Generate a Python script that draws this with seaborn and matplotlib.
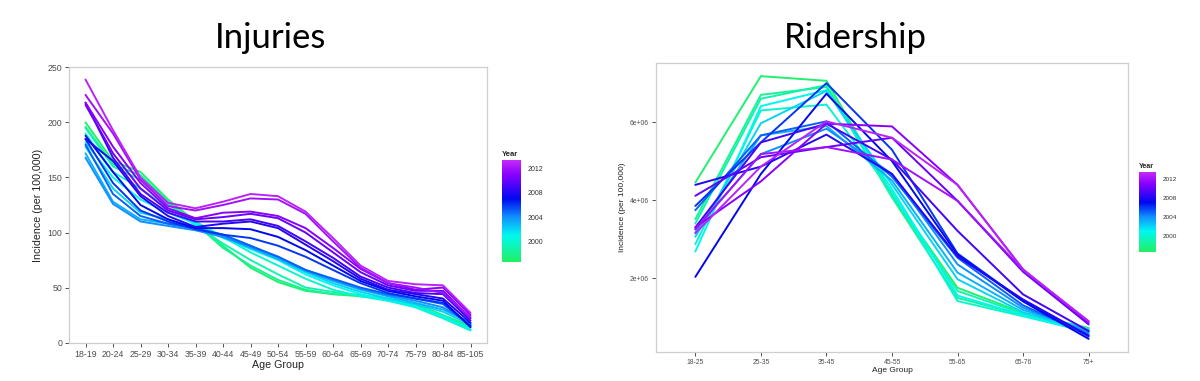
# Injuries vs ridership by age group, one line per year
import pandas as pd
import matplotlib
matplotlib.use("Agg")
import matplotlib.pyplot as plt
import seaborn as sns
from matplotlib.colors import LinearSegmentedColormap, Normalize
from matplotlib.cm import ScalarMappable
from matplotlib.ticker import FuncFormatter

years = list(range(1997, 2014))

injury_ages = ["18-19", "20-24", "25-29", "30-34", "35-39", "40-44", "45-49", "50-54",
               "55-59", "60-64", "65-69", "70-74", "75-79", "80-84", "85-105"]
# one row per year, 1997 -> 2013
injury_rates = [
    [200, 165, 155, 130, 110, 88, 68, 55, 47, 44, 42, 40, 35, 25, 15],
    [196, 162, 152, 128, 108, 86, 70, 57, 48, 44, 43, 40, 34, 24, 14],
    [195, 160, 148, 126, 106, 90, 75, 62, 50, 46, 43, 39, 33, 23, 12],
    [190, 155, 140, 122, 110, 96, 82, 70, 58, 48, 42, 38, 32, 22, 11],
    [182, 150, 130, 118, 108, 95, 85, 75, 62, 52, 44, 38, 33, 24, 12],
    [178, 140, 118, 112, 104, 98, 88, 76, 64, 54, 46, 40, 35, 28, 16],
    [172, 128, 112, 108, 103, 96, 86, 76, 65, 56, 48, 42, 36, 30, 18],
    [168, 126, 110, 106, 102, 96, 87, 78, 66, 57, 49, 43, 38, 32, 17],
    [180, 135, 115, 108, 104, 98, 88, 78, 66, 58, 50, 44, 40, 35, 16],
    [185, 145, 120, 110, 103, 98, 95, 88, 78, 66, 54, 45, 40, 36, 15],
    [188, 155, 125, 112, 104, 104, 103, 96, 84, 70, 56, 47, 42, 38, 14],
    [185, 165, 133, 115, 105, 108, 110, 104, 89, 74, 58, 48, 44, 40, 18],
    [218, 168, 135, 118, 110, 110, 112, 106, 92, 77, 60, 50, 45, 44, 20],
    [216, 172, 140, 120, 112, 114, 117, 113, 100, 82, 64, 52, 47, 47, 22],
    [218, 178, 145, 122, 113, 118, 119, 115, 104, 86, 67, 54, 48, 50, 25],
    [225, 190, 148, 124, 120, 125, 131, 130, 117, 92, 68, 54, 50, 45, 23],
    [239, 193, 150, 127, 122, 128, 135, 133, 119, 95, 70, 56, 53, 52, 27],
]

rider_ages = ["18-25", "25-35", "35-45", "45-55", "55-65", "65-76", "75+"]
# millions of riders, one row per year, 1997 -> 2013
rider_counts = [
    [4.45, 7.18, 7.06, 4.15, 1.75, 1.11, 0.72],
    [3.51, 6.70, 6.90, 4.07, 1.49, 1.05, 0.68],
    [3.40, 6.60, 6.95, 4.10, 1.67, 1.08, 0.70],
    [2.87, 6.30, 6.45, 4.20, 1.41, 1.02, 0.62],
    [2.68, 6.41, 6.82, 4.28, 1.55, 1.05, 0.60],
    [3.06, 5.97, 6.80, 4.40, 1.97, 1.12, 0.64],
    [3.17, 5.66, 5.90, 4.50, 2.14, 1.18, 0.66],
    [3.25, 5.18, 5.83, 4.67, 2.35, 1.24, 0.60],
    [3.74, 5.66, 6.02, 4.60, 2.52, 1.30, 0.55],
    [3.85, 5.48, 7.00, 5.29, 2.63, 1.42, 0.50],
    [2.03, 4.67, 6.73, 5.00, 2.60, 1.40, 0.44],
    [4.39, 4.86, 5.68, 4.67, 2.55, 1.45, 0.52],
    [3.30, 5.48, 5.96, 5.04, 3.21, 1.58, 0.64],
    [4.11, 5.10, 5.36, 5.60, 3.98, 2.16, 0.81],
    [3.30, 4.48, 5.96, 5.89, 4.39, 2.22, 0.85],
    [3.25, 5.18, 5.36, 5.04, 3.98, 2.20, 0.89],
    [3.15, 4.86, 6.02, 5.60, 4.39, 2.22, 0.89],
]

cbar_ticks = [2000, 2004, 2008, 2012]


def to_long(ages, table, scale=1.0):
    rows = []
    for yr, vals in zip(years, table):
        for age, v in zip(ages, vals):
            rows.append({"Age Group": age, "Year": yr, "value": v * scale})
    return pd.DataFrame(rows)


inj_df = to_long(injury_ages, injury_rates)
rid_df = to_long(rider_ages, rider_counts, 1e6)

sns.set_style("white")
plt.rcParams["font.family"] = ["Liberation Sans", "DejaVu Sans"]

cmap = LinearSegmentedColormap.from_list("yr", [
    (0.00, "#22F062"), (0.26, "#00F8F0"), (0.44, "#1090FF"),
    (0.62, "#0008F0"), (0.86, "#8A00FF"), (1.00, "#C42AF8")])
norm = Normalize(vmin=1996.6, vmax=2013.4)

W, H = 1200, 381
fig = plt.figure(figsize=(W / 100, H / 100), dpi=100)


def box(x0, y0, x1, y1):
    return [x0 / W, 1 - y1 / H, (x1 - x0) / W, (y1 - y0) / H]


def draw(ax, cax, df, n, tick_fs, lab_fs, cb_fs):
    sns.lineplot(data=df, x="Age Group", y="value", hue="Year", palette=cmap,
                 hue_norm=norm, estimator=None, sort=False, lw=1.4,
                 legend=False, ax=ax)
    ax.set_xlim(-0.6, n - 1 + 0.6)
    for s in ax.spines.values():
        s.set_visible(True)
        s.set_color("#cfcfcf")
        s.set_linewidth(0.9)
    ax.tick_params(direction="out", length=3, width=0.6, color="#333333",
                   labelsize=tick_fs, labelcolor="#4d4d4d", pad=2,
                   bottom=True, left=True)
    ax.set_xlabel("Age Group", fontsize=lab_fs, labelpad=1, color="#222222")
    ax.set_ylabel("Incidence (per 100,000)", fontsize=lab_fs, labelpad=3, color="#222222")

    cb = fig.colorbar(ScalarMappable(norm=norm, cmap=cmap), cax=cax, ticks=cbar_ticks)
    cb.outline.set_visible(False)
    cb.ax.tick_params(length=3, width=0.5, color="white", labelsize=cb_fs,
                      labelcolor="#333333", pad=2)
    cax.set_title("Year", fontsize=cb_fs + 0.5, fontweight="bold", loc="left", pad=3)


ax1 = fig.add_axes(box(69, 67, 487, 343))
cax1 = fig.add_axes(box(502, 160, 521, 262))
draw(ax1, cax1, inj_df, len(injury_ages), 6.3, 7.7, 5)
ax1.set_yticks([0, 50, 100, 150, 200, 250])

ax2 = fig.add_axes(box(656, 63, 1128, 352))
cax2 = fig.add_axes(box(1139, 172, 1156, 252))
draw(ax2, cax2, rid_df, len(rider_ages), 4.9, 6, 4.6)
ax2.set_yticks([2e6, 4e6, 6e6])
ax2.yaxis.set_major_formatter(FuncFormatter(lambda v, p: f"{v:.0e}"))

fig.text(271 / W, 1 - 38 / H, "Injuries", fontsize=25, family="Lato",
         color="black", ha="center", va="center")
fig.text(855 / W, 1 - 38 / H, "Ridership", fontsize=25, family="Lato",
         color="black", ha="center", va="center")

fig.savefig("out.png", dpi=100)
